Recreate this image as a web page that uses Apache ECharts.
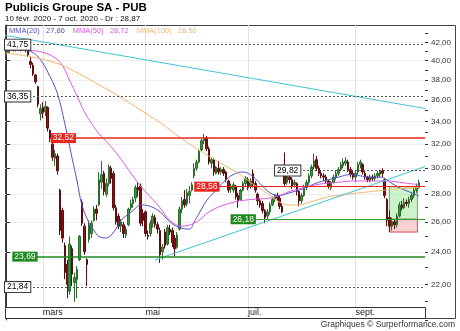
<!DOCTYPE html>
<html>
<head>
<meta charset="utf-8">
<script src="https://cdn.jsdelivr.net/npm/echarts@6.0.0/dist/echarts.min.js"></script>
<style>
html, body { margin: 0; padding: 0; background: #fff; }
#chart { width: 460px; height: 331px; }
</style>
</head>
<body>
<div id="chart"></div>
<script>
// Publicis Groupe (PUB) daily candles, 10 Feb -> 7 Oct 2020, log price scale
var firstDay = '2020-02-10';
var lastDay = '2020-10-07';
var holidays = ['2020-04-10', '2020-04-13', '2020-05-01'];
var spareSlots = 2; // empty days right of the last candle

var opens = [
  40.7, 40.9, 41.3, 41.5, 41.2, 41.3, 41.5, 41.2, 41.4, 41.1,
  39.9, 39.5, 38.5, 37.3, 34.7, 35.3, 34.9, 35.3, 33.2, 32.0,
  30.8, 31.0, 28.3, 26.8, 24.4, 23.2, 21.6, 24.2, 22.1, 22.3,
  23.5, 27.4, 25.7, 23.5, 24.8, 25.2, 26.1, 26.9, 27.2, 28.9,
  29.6, 28.0, 28.8, 30.0, 29.6, 27.0, 26.4, 25.7, 25.8, 25.1,
  25.8, 27.0, 27.3, 27.7, 28.5, 28.6, 26.6, 26.7, 25.1, 25.2,
  25.9, 26.3, 25.8, 25.4, 24.0, 25.3, 24.5, 25.5, 25.4, 24.9,
  24.3, 25.5, 26.9, 27.6, 27.3, 27.9, 28.3, 29.4, 30.0, 30.5,
  31.5, 32.3, 32.5, 31.6, 30.4, 30.7, 29.6, 30.0, 29.7, 29.9,
  29.7, 29.0, 28.4, 28.3, 28.6, 27.9, 27.6, 28.3, 28.8, 29.1,
  28.6, 29.6, 28.8, 28.0, 27.5, 27.3, 26.8, 26.4, 26.7, 27.2,
  27.6, 27.9, 27.7, 27.1, 29.6, 28.9, 29.3, 29.1, 28.7, 28.8,
  28.2, 27.5, 27.9, 28.5, 28.9, 29.4, 30.1, 30.7, 30.0, 29.6,
  29.4, 29.3, 29.0, 28.5, 28.9, 29.3, 29.6, 29.9, 30.2, 30.4,
  30.5, 29.9, 29.6, 29.3, 29.7, 30.3, 30.3, 29.6, 29.3, 29.0,
  29.3, 29.2, 29.4, 29.5, 29.8, 29.1, 27.6, 26.3, 25.7, 26.0,
  25.8, 26.4, 27.2, 27.0, 27.4, 27.3, 27.6, 27.9, 28.3, 28.5
];
var closes = [
  40.9, 41.3, 41.5, 41.2, 41.3, 41.5, 41.2, 41.4, 41.2, 40.6,
  39.6, 38.6, 37.8, 35.6, 35.2, 34.8, 35.4, 33.4, 32.5, 30.9,
  31.2, 29.8, 25.4, 24.9, 22.7, 22.0, 24.5, 22.6, 22.4, 22.9,
  25.0, 25.9, 24.0, 23.2, 25.8, 25.9, 26.9, 26.6, 29.1, 29.5,
  28.2, 28.8, 30.1, 29.2, 27.0, 26.0, 25.7, 26.0, 25.2, 25.5,
  26.9, 27.3, 27.6, 28.5, 28.3, 25.9, 26.1, 25.2, 25.0, 25.9,
  26.4, 25.8, 25.5, 23.8, 24.3, 24.4, 25.6, 25.3, 24.6, 24.2,
  25.1, 26.9, 27.5, 27.2, 28.1, 28.2, 28.7, 30.0, 30.5, 31.4,
  32.3, 32.5, 31.6, 30.5, 30.7, 29.7, 30.1, 29.7, 29.9, 29.6,
  29.1, 28.3, 28.6, 28.7, 27.8, 27.5, 28.3, 28.8, 29.2, 28.5,
  29.0, 28.7, 28.3, 27.5, 27.2, 26.8, 26.3, 26.7, 27.2, 27.6,
  27.9, 27.7, 27.1, 26.7, 28.8, 29.4, 29.1, 28.6, 28.9, 28.2,
  27.5, 27.9, 28.5, 28.9, 29.4, 30.1, 30.6, 30.0, 29.6, 29.4,
  29.3, 29.0, 28.6, 28.9, 29.3, 29.6, 29.9, 30.3, 30.5, 30.6,
  29.9, 29.5, 29.3, 29.6, 30.3, 30.5, 29.7, 29.3, 29.1, 29.3,
  29.2, 29.4, 29.6, 29.8, 29.6, 27.9, 26.1, 25.7, 26.0, 25.8,
  26.4, 27.2, 27.0, 27.4, 27.3, 27.6, 27.9, 28.3, 28.6, 28.87
];
var lows = [
  40.5, 40.8, 41.2, 41.0, 41.0, 41.2, 41.0, 41.1, 40.9, 40.4,
  39.2, 38.4, 37.6, 35.3, 34.1, 34.3, 34.5, 33.1, 32.2, 30.6,
  30.2, 29.5, 25.1, 24.6, 22.3, 21.2, 21.4, 21.9, 21.0, 21.2,
  23.4, 25.7, 23.8, 21.9, 24.6, 24.9, 26.0, 26.1, 27.1, 28.4,
  27.9, 27.8, 28.6, 28.8, 26.8, 25.8, 25.5, 25.3, 24.9, 24.9,
  25.7, 26.8, 27.0, 27.4, 27.8, 25.7, 25.7, 25.0, 24.8, 25.0,
  25.6, 25.6, 25.2, 23.3, 23.5, 24.2, 24.4, 25.1, 24.3, 23.7,
  24.2, 25.4, 26.6, 27.0, 27.1, 27.3, 28.2, 29.2, 29.8, 30.4,
  31.4, 32.0, 31.4, 30.3, 30.0, 29.4, 29.5, 29.5, 29.5, 29.4,
  28.9, 28.1, 28.1, 28.1, 27.6, 27.0, 27.5, 28.2, 28.6, 28.3,
  28.4, 28.5, 28.1, 27.2, 27.0, 26.6, 25.9, 26.2, 26.5, 27.1,
  27.4, 27.5, 26.9, 26.6, 28.6, 28.7, 28.8, 28.4, 28.5, 27.9,
  27.1, 27.3, 27.8, 28.3, 28.7, 29.2, 29.9, 29.8, 29.4, 29.2,
  29.0, 28.8, 28.4, 28.3, 28.8, 29.1, 29.4, 29.8, 30.0, 30.2,
  29.7, 29.3, 29.1, 28.9, 29.5, 30.0, 29.5, 29.1, 28.9, 28.9,
  29.0, 29.0, 29.2, 29.3, 29.3, 27.7, 25.7, 25.3, 25.4, 25.5,
  25.6, 26.3, 26.8, 26.9, 27.1, 27.0, 27.4, 27.7, 28.1, 28.4
];
var highs = [
  41.1, 41.4, 41.75, 41.6, 41.5, 41.7, 41.6, 41.6, 41.5, 41.2,
  40.4, 39.8, 38.6, 37.4, 35.6, 35.8, 35.9, 35.4, 33.3, 32.2,
  31.5, 31.2, 28.4, 27.0, 24.6, 23.5, 25.0, 24.4, 22.7, 23.1,
  25.1, 27.6, 25.9, 23.6, 26.1, 26.1, 27.1, 27.2, 29.7, 30.6,
  29.8, 29.2, 30.3, 30.2, 29.8, 27.2, 26.6, 26.2, 26.0, 25.7,
  27.0, 27.6, 27.8, 28.7, 28.9, 28.8, 26.9, 26.8, 25.4, 26.1,
  26.6, 26.5, 26.0, 25.6, 24.5, 25.5, 25.8, 25.8, 25.6, 25.1,
  25.3, 27.1, 27.8, 28.3, 28.4, 28.6, 28.9, 30.4, 30.7, 31.6,
  32.5, 32.9, 32.7, 31.8, 30.9, 30.8, 30.2, 30.6, 30.1, 30.1,
  29.8, 29.1, 28.8, 28.9, 28.7, 28.1, 28.4, 29.0, 29.4, 29.3,
  29.2, 29.9, 29.0, 28.1, 27.7, 27.5, 26.9, 26.9, 27.4, 27.8,
  28.0, 28.1, 27.9, 27.3, 31.3, 29.6, 29.5, 29.3, 29.1, 28.9,
  28.3, 28.1, 28.7, 29.1, 29.6, 30.3, 31.2, 31.0, 30.2, 29.8,
  29.6, 29.5, 29.1, 29.0, 29.5, 29.8, 30.1, 30.5, 30.8, 30.9,
  30.7, 30.1, 29.8, 29.8, 30.5, 30.7, 30.4, 29.8, 29.4, 29.5,
  29.5, 29.6, 29.8, 29.9, 30.0, 29.2, 27.7, 26.8, 26.3, 26.2,
  26.6, 27.4, 27.5, 27.7, 27.6, 27.8, 28.1, 28.5, 28.8, 29.1
];

// moving averages, read at some trading-day indexes
var ma20Idx = [0, 5, 10, 14, 18, 21, 24, 27, 29, 31, 34, 36, 38, 41, 44, 47, 49, 52, 55, 59, 63, 67, 71, 75, 77, 79, 82, 86, 90, 94, 97, 100, 104, 108, 112, 116, 120, 124, 128, 132, 136, 141, 145, 149, 153, 155, 158, 162, 166, 169];
var ma20Val = [41.1, 41.2, 41.0, 40.1, 38.3, 36.6, 33.8, 30.8, 29.0, 27.2, 25.9, 25.4, 25.0, 24.9, 25.3, 26.1, 26.4, 26.8, 27.2, 27.1, 26.7, 26.0, 25.6, 25.5, 26.0, 26.6, 27.5, 28.3, 29.1, 29.6, 29.7, 29.5, 28.8, 28.1, 27.9, 28.1, 28.3, 28.6, 28.9, 29.1, 29.3, 29.5, 29.4, 29.3, 29.3, 29.2, 28.8, 28.4, 28.1, 27.86];
var ma50Idx = [0, 10, 15, 20, 23, 26, 29, 32, 35, 38, 42, 46, 50, 55, 59, 63, 67, 72, 78, 83, 91, 100, 108, 112, 116, 120, 124, 130, 136, 142, 150, 156, 161, 165, 169];
var ma50Val = [41.2, 41.1, 40.9, 40.3, 39.5, 37.9, 36.4, 34.9, 33.8, 32.9, 32.0, 31.0, 29.9, 28.6, 27.8, 27.0, 26.1, 25.7, 26.0, 26.7, 27.3, 27.6, 27.7, 27.9, 28.2, 28.4, 28.6, 28.8, 28.9, 29.0, 29.0, 29.0, 28.9, 28.8, 28.72];
var ma100Idx = [0, 6, 14, 22, 30, 38, 46, 54, 63, 71, 79, 87, 95, 100, 104, 108, 112, 116, 120, 124, 128, 132, 136, 140, 145, 150, 155, 160, 165, 169];
var ma100Val = [40.8, 40.6, 40.2, 39.6, 38.6, 37.5, 36.4, 35.2, 33.9, 32.6, 31.5, 30.5, 29.6, 28.9, 28.4, 27.9, 27.4, 27.2, 27.2, 27.4, 27.6, 27.8, 27.9, 28.0, 28.1, 28.2, 28.3, 28.4, 28.45, 28.5];

var majorTicks = [22, 24, 26, 28, 30, 32, 34, 36, 38, 40, 42];
var minorTicks = [20, 21, 22, 23, 24, 25, 26, 27, 28, 29, 30, 31, 32, 33, 34, 35, 36, 37, 38, 39, 40, 41, 42, 43];
var priceMin = 20, priceMax = 44;

// horizontal levels drawn by the site (value, trading-day index where it starts, kind)
var levelValues = [41.75, 36.35, 21.84, 32.52, 28.56, 29.82, 26.18, 23.69];
var levelFrom = [-0.5, -0.5, -0.5, 18.2, 77.0, 110.1, 91.9, 2.5];
var levelKind = ['mark', 'mark', 'mark', 'R1', 'R2', 'mark', 'S2', 'S1'];

// trend lines: [from index, to index], [from price, to price]
var trendIdx = [[-0.5, 171.5], [60.9, 171.5]];
var trendVal = [[42.8, 35.2], [23.48, 30.14]];

// last swing box
var zoneIdx = [156.9, 168.4];
var zoneEdges = [25.3, 26.18, 28.56];

var shownMonths = ['03', '05', '07', '09'];
var monthNames = ['janv.', 'févr.', 'mars', 'avr.', 'mai', 'juin', 'juil.', 'août', 'sept.', 'oct.', 'nov.', 'déc.'];

var FONT = '"Liberation Sans", Arial, sans-serif';

function fmt(v) { return v.toFixed(2).replace('.', ','); }
function frDate(s) {
  var p = s.split('-');
  return (+p[2]) + ' ' + monthNames[+p[1] - 1] + ' ' + p[0];
}

var dates = [];
for (var d = new Date(firstDay + 'T00:00:00Z'); d <= new Date(lastDay + 'T00:00:00Z'); d.setUTCDate(d.getUTCDate() + 1)) {
  var s = d.toISOString().slice(0, 10);
  var wd = d.getUTCDay();
  if (wd !== 0 && wd !== 6 && holidays.indexOf(s) < 0) dates.push(s);
}
var cats = dates.slice();
for (var k = 0; k < spareSlots; k++) cats.push('');
var xMax = cats.length - 0.5;

function isMonthStart(i) {
  if (i <= 0 || !cats[i]) return false;
  var m = cats[i].slice(5, 7);
  return m !== cats[i - 1].slice(5, 7) && shownMonths.indexOf(m) >= 0;
}

var candles = closes.map(function (c, i) {
  return [Math.log(opens[i]), Math.log(c), Math.log(lows[i]), Math.log(highs[i])];
});

function maPoints(idx, val) {
  return idx.map(function (x, i) { return [x, Math.log(val[i])]; });
}

var maDefs = [
  { name: 'MMA(20)', idx: ma20Idx, val: ma20Val, color: '#5151c9' },
  { name: 'MMA(50)', idx: ma50Idx, val: ma50Val, color: '#e257e2' },
  { name: 'MMA(100)', idx: ma100Idx, val: ma100Val, color: '#f4b56b' }
];
var lastMa = {};
maDefs.forEach(function (m) { lastMa[m.name] = m.val[m.val.length - 1]; });

var levelStyle = {
  mark: { line: { color: '#555', width: 1, type: [2, 2] }, label: { backgroundColor: '#fff', borderColor: '#333', borderWidth: 1, color: '#000' } },
  R1: { line: { color: '#e8261e', width: 1.6, type: 'solid' }, label: { backgroundColor: '#e8261e', color: '#fff' } },
  R2: { line: { color: '#e8261e', width: 1.2, type: 'solid' }, label: { backgroundColor: '#e8261e', color: '#fff' } },
  S1: { line: { color: '#1f8a1f', width: 1.6, type: 'solid' }, label: { backgroundColor: '#1f8a1f', color: '#fff' } },
  S2: { line: { color: '#2f982f', width: 1, type: 'solid' }, label: { backgroundColor: '#1f8a1f', color: '#fff' } }
};
var levelLines = levelValues.map(function (v, k) {
  var st = levelStyle[levelKind[k]];
  return [
    { coord: [levelFrom[k], Math.log(v)], lineStyle: st.line, label: Object.assign({ formatter: fmt(v) }, st.label) },
    { coord: [xMax, Math.log(v)] }
  ];
});

var chart = echarts.init(document.getElementById('chart'), null, { renderer: 'canvas' });

var series = [
  {
    name: 'zones', type: 'line', xAxisIndex: 2, yAxisIndex: 0, data: [], z: 1, silent: true,
    markArea: {
      silent: true,
      data: [
        [{ coord: [zoneIdx[0], Math.log(zoneEdges[1])], itemStyle: { color: 'rgba(160,235,160,0.55)', borderColor: '#4fb84f', borderWidth: 1 } },
         { coord: [zoneIdx[1], Math.log(zoneEdges[2])] }],
        [{ coord: [zoneIdx[0], Math.log(zoneEdges[0])], itemStyle: { color: 'rgba(245,170,170,0.55)', borderColor: '#d65050', borderWidth: 1 } },
         { coord: [zoneIdx[1], Math.log(zoneEdges[1])] }]
      ]
    }
  },
  {
    name: 'PUB', type: 'candlestick', xAxisIndex: 0, yAxisIndex: 0, data: candles, barWidth: 2, z: 3,
    itemStyle: { color: '#3f953f', color0: '#86161a', borderColor: '#2b6b2b', borderColor0: '#5a0c0e', borderWidth: 1 }
  }
];

maDefs.forEach(function (m) {
  series.push({
    name: m.name, type: 'line', xAxisIndex: 2, yAxisIndex: 0, data: maPoints(m.idx, m.val),
    smooth: 0.4, symbol: 'none', z: 4, lineStyle: { color: m.color, width: 1 }, itemStyle: { color: m.color }
  });
});

trendIdx.forEach(function (t, k) {
  series.push({
    name: 'trend' + k, type: 'line', xAxisIndex: 2, yAxisIndex: 0,
    data: [[t[0], Math.log(trendVal[k][0])], [t[1], Math.log(trendVal[k][1])]],
    symbol: 'none', z: 4, silent: true, lineStyle: { color: '#3fc4d4', width: 1 }
  });
});

series.push({
  name: 'levels', type: 'line', xAxisIndex: 2, yAxisIndex: 0, data: [], z: 5, silent: true,
  markLine: {
    silent: true, symbol: 'none',
    label: { show: true, position: 'insideStart', distance: 0, fontSize: 8.5, fontFamily: FONT, padding: [1, 2, 0, 2] },
    data: levelLines
  }
});

chart.setOption({
  animation: false,
  backgroundColor: '#fff',
  textStyle: { fontFamily: FONT },
  title: [
    {
      text: 'Publicis Groupe SA - PUB',
      subtext: frDate(firstDay) + ' - ' + frDate(lastDay) + ' - Dr : ' + fmt(closes[closes.length - 1]),
      left: 5, top: 2, padding: 0, itemGap: 1,
      textStyle: { fontSize: 11.5, fontWeight: 'bold', color: '#000', fontFamily: FONT },
      subtextStyle: { fontSize: 8, color: '#111', fontFamily: FONT }
    },
    {
      text: 'Graphiques © Surperformance.com',
      right: 5, top: 320, padding: 0,
      textStyle: { fontSize: 8.5, fontWeight: 'normal', color: '#333', fontFamily: FONT }
    }
  ],
  legend: {
    left: 4, top: 27, padding: 0, icon: 'none', itemWidth: 0, itemHeight: 0, itemGap: 3, selectedMode: false,
    data: maDefs.map(function (m) { return { name: m.name, textStyle: { color: m.color } }; }),
    formatter: function (name) { return name + '   ' + fmt(lastMa[name]); },
    textStyle: { fontSize: 7.5, fontFamily: FONT }
  },
  grid: { left: 5, right: 35, top: 25, bottom: 11, containLabel: false, outerBoundsMode: 'none' },
  xAxis: [
    {
      type: 'category', data: cats, boundaryGap: true,
      axisLine: { show: false }, axisTick: { show: false, alignWithLabel: true }, axisLabel: { show: false },
      splitLine: { show: true, alignWithLabel: true, interval: function (i) { return isMonthStart(i); }, lineStyle: { color: '#e3e3e3' } }
    },
    {
      type: 'category', data: cats, boundaryGap: true, position: 'bottom', z: 20,
      axisLine: { show: false }, axisTick: { show: false }, splitLine: { show: false },
      axisLabel: {
        inside: true, margin: 3, align: 'left', fontSize: 9, color: '#222',
        interval: function (i) { return isMonthStart(i); },
        formatter: function (v) { return v ? monthNames[+v.slice(5, 7) - 1] : ''; }
      }
    },
    { type: 'value', min: -0.5, max: xMax, show: false }
  ],
  yAxis: [
    {
      type: 'value', position: 'right', min: Math.log(priceMin), max: Math.log(priceMax),
      axisLine: { show: true, lineStyle: { color: '#333' } },
      axisTick: { show: true, length: 4, customValues: majorTicks.map(Math.log), lineStyle: { color: '#333' } },
      axisLabel: {
        customValues: majorTicks.map(Math.log), margin: 6, fontSize: 8, color: '#333',
        formatter: function (v) { return fmt(Math.exp(v)); }
      },
      splitLine: { show: true, lineStyle: { color: '#eeeeee' } }
    },
    {
      type: 'value', position: 'right', min: Math.log(priceMin), max: Math.log(priceMax),
      axisLine: { show: false },
      axisTick: { show: true, length: 3, customValues: minorTicks.map(Math.log), lineStyle: { color: '#333' } },
      axisLabel: { show: false }, splitLine: { show: false }
    }
  ],
  graphic: [
    { type: 'rect', silent: true, z: 0, shape: { x: 5.5, y: 25.5, width: 450, height: 293 }, style: { fill: 'none', stroke: '#444', lineWidth: 1 } },
    { type: 'rect', silent: true, z: 10, shape: { x: 5.5, y: 307.5, width: 420, height: 11 }, style: { fill: '#fff', stroke: '#333', lineWidth: 1 } }
  ],
  series: series
});
</script>
</body>
</html>
